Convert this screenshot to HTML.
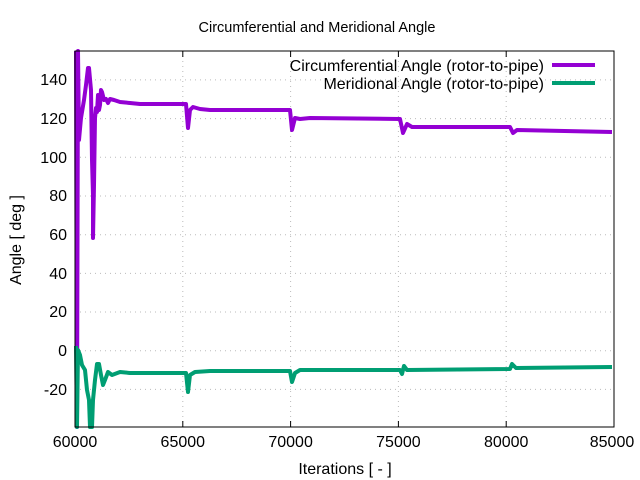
<!DOCTYPE html>
<html><head><style>body{margin:0;background:#fff}svg{display:block;font-family:"Liberation Sans",sans-serif}</style></head><body>
<svg width="640" height="480" viewBox="0 0 640 480">
<rect width="640" height="480" fill="#fff"/>
<g stroke="#bbb" stroke-width="1" stroke-dasharray="1,4">
<line x1="75" x2="614" y1="389.4" y2="389.4"/><line x1="75" x2="614" y1="350.7" y2="350.7"/><line x1="75" x2="614" y1="312" y2="312"/><line x1="75" x2="614" y1="273.4" y2="273.4"/><line x1="75" x2="614" y1="234.7" y2="234.7"/><line x1="75" x2="614" y1="196" y2="196"/><line x1="75" x2="614" y1="157.3" y2="157.3"/><line x1="75" x2="614" y1="118.6" y2="118.6"/><line x1="75" x2="614" y1="79.9" y2="79.9"/>
<line x1="182.8" x2="182.8" y1="51" y2="427"/><line x1="290.6" x2="290.6" y1="51" y2="427"/><line x1="398.4" x2="398.4" y1="51" y2="427"/><line x1="506.2" x2="506.2" y1="51" y2="427"/>
</g>
<g fill="none" stroke-width="4" stroke-linejoin="round">
<polyline stroke="#9400d3" points="76,51 77,427 78,51 79,140 81,118 84,100 86,85 88,68 89,68 91,90 92,160 93,195 93,238 94,185 95,118 96,108 97,112 98,95 99,110 100,105 101,90 102,92 104,100 106,99 108,103 110,99 114,100 120,102 130,103 140,104 186,104 188,128 190,110 193,107 200,109 210,110 290,110 292,130 295,118 300,119 310,118 400,119 403,133 407,124 412,127 510,127 513,133 517,130 612,132"/>
<polyline stroke="#009e73" points="76,346 77,427 78,350 80,355 82,365 85,370 87,390 89,400 90,427 92,427 93,400 95,380 97,364 99,364 101,375 103,385 105,380 108,372 112,375 120,372 130,373 186,373 188,392 190,375 195,372 210,371 290,371 292,382 295,373 300,370 400,370 402,374 404,366 407,370 510,369 512,364 516,368 612,367"/>
<line stroke="#9400d3" x1="552" x2="595" y1="65" y2="65"/>
<line stroke="#009e73" x1="552" x2="595" y1="83" y2="83"/>
</g>
<rect x="75" y="51" width="539" height="376" fill="none" stroke="#000" stroke-width="1"/>
<g stroke="#000">
<line x1="182.8" x2="182.8" y1="427" y2="421"/><line x1="290.6" x2="290.6" y1="427" y2="421"/><line x1="398.4" x2="398.4" y1="427" y2="421"/><line x1="506.2" x2="506.2" y1="427" y2="421"/>
<line x1="182.8" x2="182.8" y1="51" y2="57"/><line x1="290.6" x2="290.6" y1="51" y2="57"/><line x1="398.4" x2="398.4" y1="51" y2="57"/><line x1="506.2" x2="506.2" y1="51" y2="57"/>
</g>
<g font-size="16" fill="#000" text-anchor="middle">
<text x="75" y="447">60000</text><text x="182.8" y="447">65000</text><text x="290.6" y="447">70000</text><text x="398.4" y="447">75000</text><text x="506.2" y="447">80000</text><text x="612" y="447">85000</text>
<text x="345" y="474">Iterations [ - ]</text>
<text x="317" y="32" font-size="14.5">Circumferential and Meridional Angle</text>
<text transform="translate(21,240) rotate(-90)">Angle [ deg ]</text>
</g>
<g font-size="16" fill="#000" text-anchor="end">
<text x="67" y="395">-20</text><text x="67" y="356">0</text><text x="67" y="317">20</text><text x="67" y="279">40</text><text x="67" y="240">60</text><text x="67" y="201">80</text><text x="67" y="163">100</text><text x="67" y="124">120</text><text x="67" y="85">140</text>
<text x="544" y="71">Circumferential Angle (rotor-to-pipe)</text>
<text x="544" y="89">Meridional Angle (rotor-to-pipe)</text>
</g>
</svg>
</body></html>
